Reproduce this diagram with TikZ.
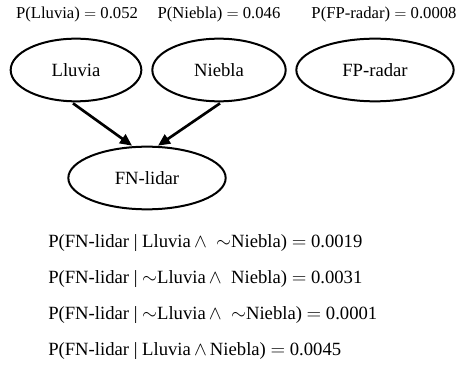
\documentclass[tikz,border=0pt]{standalone}
\usepackage{fontspec}
\setmainfont{Liberation Serif}
\usetikzlibrary{shapes.geometric,arrows.meta,calc}
\begin{document}
\begin{tikzpicture}[x=0.75pt,y=-0.75pt,
  var/.style={ellipse,draw,line width=1.5pt,inner sep=0pt,minimum height=47pt,font=\fontsize{14}{16}\selectfont},
  prob/.style={inner sep=0pt,font=\fontsize{12.5}{14}\selectfont},
  cpt/.style={anchor=west,inner sep=0pt,font=\fontsize{14}{16}\selectfont},
  arr/.style={line width=2pt,-{Triangle[length=9pt,width=8pt]}}]
\useasboundingbox (0,0) rectangle (457,367);
\node[var,minimum width=98pt] (L) at (76,70) {Lluvia};
\node[var,minimum width=100pt] (N) at (219,70) {Niebla};
\node[var,minimum width=118pt] (R) at (375,70) {FP-radar};
\node[var,minimum width=118pt] (F) at (147,178) {FN-lidar};
\node[prob] (pL) at (77,14) {P(Lluvia) $=$ 0.052};
\node[prob] (pN) at (219,14) {P(Niebla) $=$ 0.046};
\node[prob] (pR) at (384,14) {P(FP-radar) $=$ 0.0008};
\draw[arr] ($(L.south)+(-3,1)$) -- ($(F.north)+(-15,0)$);
\draw[arr] ($(N.south)+(1,1)$) -- ($(F.north)+(11,0)$);
\node[cpt] (c1) at (48,243) {P(FN-lidar | Lluvia\,$\wedge$\hspace{0.5em}$\sim$Niebla) $=$ 0.0019};
\node[cpt] (c2) at (48,279) {P(FN-lidar | $\sim$Lluvia\,$\wedge$\hspace{0.5em}Niebla) $=$ 0.0031};
\node[cpt] (c3) at (48,315) {P(FN-lidar | $\sim$Lluvia\,$\wedge$\hspace{0.5em}$\sim$Niebla) $=$ 0.0001};
\node[cpt] (c4) at (48,351) {P(FN-lidar | Lluvia\,$\wedge$\,Niebla) $=$ 0.0045};
\end{tikzpicture}
\end{document}
